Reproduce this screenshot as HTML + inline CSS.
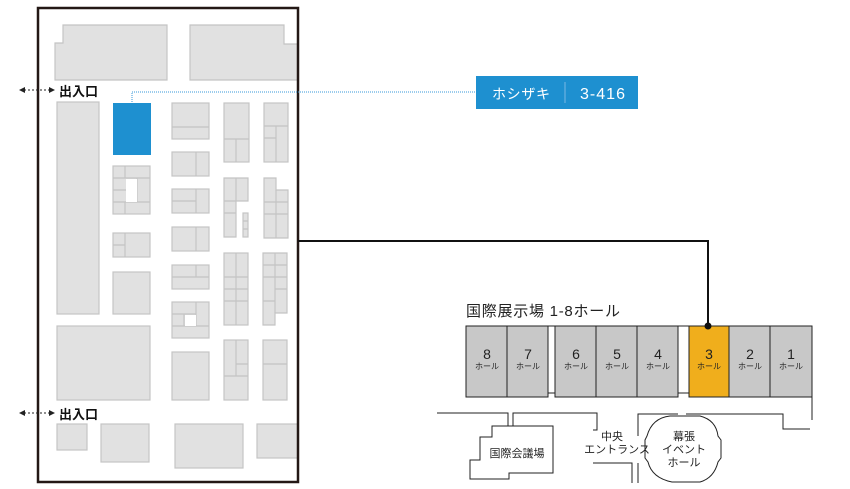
<!DOCTYPE html>
<html><head><meta charset="utf-8"><style>
html,body{margin:0;padding:0;background:#fff;}
svg{display:block;font-family:"Liberation Sans","Noto Sans CJK JP",sans-serif;}
.b{fill:#e1e1e1;stroke:#c4c4c4;stroke-width:1.2;}
.l{stroke:#c4c4c4;stroke-width:1.2;fill:none;}
.h{fill:#c8c8c8;stroke:#222;stroke-width:1;}
.k{fill:none;stroke:#222;stroke-width:1;}
</style></head><body>
<svg width="850" height="489" viewBox="0 0 850 489">
<polygon class="b" points="63,25 167,25 167,80 55,80 55,43 63,43"/>
<polygon class="b" points="190,25 284,25 284,44 298,44 298,80 190,80"/>
<rect class="b" x="57" y="102" width="42" height="212"/>
<rect class="b" x="57" y="326" width="93" height="74"/>
<rect x="113" y="103" width="38" height="52" fill="#1e90d0"/>
<rect class="b" x="113" y="166" width="37" height="48"/>
<path class="l" d="M113,178H150M113,190H126M113,202H150M125,166V178M125,202V214M137,178V202"/>
<rect x="126" y="179" width="11" height="23" fill="#fff"/>
<rect class="b" x="113" y="233" width="37" height="24"/>
<path class="l" d="M113,245H125M125,233V257"/>
<rect class="b" x="113" y="272" width="37" height="42"/>
<rect class="b" x="172" y="103" width="37" height="36"/><path class="l" d="M172,127H209"/>
<rect class="b" x="172" y="152" width="37" height="24"/><path class="l" d="M196,152V176"/>
<rect class="b" x="172" y="189" width="37" height="24"/><path class="l" d="M172,201H196M196,189V213"/>
<rect class="b" x="172" y="227" width="37" height="24"/><path class="l" d="M196,227V251"/>
<rect class="b" x="172" y="265" width="37" height="24"/><path class="l" d="M172,277H209M196,265V277"/>
<rect class="b" x="172" y="302" width="37" height="36"/><path class="l" d="M172,314H196M196,302V326M172,326H209M184,314V326"/>
<rect x="185" y="315" width="11" height="11" fill="#fff"/>
<rect class="b" x="172" y="352" width="37" height="48"/>
<rect class="b" x="224" y="103" width="25" height="59"/><path class="l" d="M224,139H249M236,139V162"/>
<polygon class="b" points="224,178 248,178 248,201 236,201 236,237 224,237"/><path class="l" d="M236,178V201M224,201H236M224,213H236"/>
<rect class="b" x="243" y="213" width="5" height="24"/><path class="l" d="M243,221H248M243,229H248"/>
<rect class="b" x="224" y="253" width="24" height="72"/><path class="l" d="M236,253V325M224,277H248M224,289H248M224,301H248"/>
<rect class="b" x="224" y="340" width="24" height="60"/><path class="l" d="M236,340V376M236,364H248M224,376H248"/>
<rect class="b" x="264" y="103" width="24" height="59"/><path class="l" d="M264,126H288M276,126V162M264,138H276"/>
<polygon class="b" points="264,178 276,178 276,190 288,190 288,238 264,238"/><path class="l" d="M276,190V238M264,202H288M264,214H288"/>
<polygon class="b" points="263,253 287,253 287,313 275,313 275,325 263,325"/><path class="l" d="M275,253V313M263,265H287M263,277H287M275,289H287M263,301H275"/>
<rect class="b" x="263" y="340" width="24" height="60"/><path class="l" d="M263,364H287"/>
<rect class="b" x="57" y="424" width="30" height="26"/>
<rect class="b" x="101" y="424" width="48" height="38"/>
<rect class="b" x="175" y="424" width="68" height="44"/>
<rect class="b" x="257" y="424" width="41" height="34"/>
<rect x="38" y="8" width="260" height="474" fill="none" stroke="#231815" stroke-width="2.5"/>
<g stroke="#222" stroke-width="1" stroke-dasharray="2,2"><line x1="24" y1="90" x2="52" y2="90"/><line x1="24" y1="413" x2="52" y2="413"/></g>
<g fill="#222"><polygon points="19,90 25,87 25,93"/><polygon points="55,90 49,87 49,93"/><polygon points="19,413 25,410 25,416"/><polygon points="55,413 49,410 49,416"/></g>
<text x="59" y="96" font-size="13" font-weight="bold" fill="#111">出入口</text>
<text x="59" y="419" font-size="13" font-weight="bold" fill="#111">出入口</text>
<path d="M132,102V92H476" fill="none" stroke="#3a9ad8" stroke-width="1" stroke-dasharray="1,1"/>
<rect x="476" y="76" width="162" height="33" fill="#1e90d0"/>
<line x1="565" y1="82" x2="565" y2="103" stroke="#7ab9e4" stroke-width="1"/>
<text x="492" y="99" font-size="14" fill="#fff" textLength="58">ホシザキ</text>
<text x="580" y="99" font-size="16" fill="#fff" textLength="45">3-416</text>
<path d="M298,241H708V326" fill="none" stroke="#111" stroke-width="2"/>
<text x="466" y="316" font-size="15" fill="#222" textLength="154">国際展示場 1-8ホール</text>
<rect class="h" x="466" y="326" width="41" height="71"/><rect class="h" x="507" y="326" width="41" height="71"/>
<rect class="h" x="555" y="326" width="41" height="71"/><rect class="h" x="596" y="326" width="41" height="71"/><rect class="h" x="637" y="326" width="41" height="71"/>
<rect x="689" y="326" width="40" height="71" fill="#f0ae1c" stroke="#222" stroke-width="1"/>
<rect class="h" x="729" y="326" width="41" height="71"/><rect class="h" x="770" y="326" width="42" height="71"/>
<path class="k" d="M548,393H555M678,393H689M548,326H555M678,326H689"/>
<circle cx="708" cy="326" r="3.5" fill="#111"/>
<g font-size="14" fill="#222" text-anchor="middle">
<text x="487" y="359">8</text><text x="528" y="359">7</text><text x="576" y="359">6</text><text x="617" y="359">5</text><text x="658" y="359">4</text><text x="709" y="359">3</text><text x="750" y="359">2</text><text x="791" y="359">1</text>
</g>
<g font-size="8" fill="#222" text-anchor="middle">
<text x="487" y="369">ホール</text><text x="528" y="369">ホール</text><text x="576" y="369">ホール</text><text x="617" y="369">ホール</text><text x="658" y="369">ホール</text><text x="709" y="369">ホール</text><text x="750" y="369">ホール</text><text x="791" y="369">ホール</text>
</g>
<path class="k" d="M437,413H508V426M513,426V413H597V430H593"/>
<polygon class="k" points="513,426 553,426 553,473 509,473 509,479 470,479 470,460 480,460 480,437 492,437 492,426 508,426"/>
<path class="k" d="M593,463H632V483M638,483V463M638,436V414H678M686,414H783V420M812,397V420M783,420V429H810"/>
<path class="k" d="M647,436 Q652,418 670,416 L700,416 Q716,420 718,436 L721,440 L721,458 L718,462 Q714,478 700,482 L672,482 Q652,478 648,462 L645,458 L645,440 Z" fill="#fff"/>
<g font-size="11" fill="#222" text-anchor="middle">
<text x="517" y="457">国際会議場</text>
<text x="612" y="440">中央</text><text x="617" y="453">エントランス</text>
<text x="684" y="440">幕張</text><text x="684" y="453">イベント</text><text x="684" y="466">ホール</text>
</g>
</svg>
</body></html>
